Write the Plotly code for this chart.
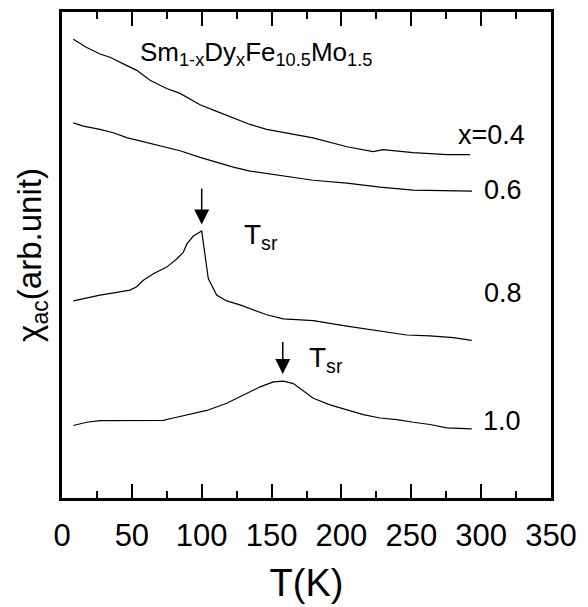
import plotly.graph_objects as go

# Temperature (K) and chi_ac (arb. unit, offset curves)
T_04 = [8.1, 17.7, 27.2, 34.4, 43.9, 53.5, 63.0, 74.9, 84.5, 98.8, 110.7, 122.6, 134.6, 146.5,
        158.4, 170.4, 179.7, 204.0, 222.6, 229.8, 251.3, 275.6, 292.0]
chi_04 = [466.3, 458.0, 451.3, 448.0, 441.3, 434.7, 424.7, 416.3, 411.3, 399.7, 393.0, 386.3, 379.7, 374.7,
          371.3, 368.0, 366.0, 357.0, 352.0, 354.0, 351.0, 349.0, 349.0]

T_06 = [8.1, 15.2, 27.2, 36.7, 46.3, 55.8, 65.4, 74.9, 84.5, 98.8, 110.7, 122.6, 134.6, 146.5,
        158.4, 170.4, 179.7, 204.0, 227.6, 251.3, 275.6, 293.5]
chi_06 = [381.3, 378.0, 374.7, 371.3, 366.3, 363.0, 360.3, 357.0, 353.0, 346.3, 341.3, 336.3, 332.3, 329.7,
          327.0, 324.7, 323.0, 320.0, 316.0, 313.0, 312.0, 312.0]

T_08 = [8.1, 17.7, 27.2, 39.2, 48.7, 53.5, 58.2, 65.4, 74.9, 82.1, 86.8, 89.3, 94.0, 100.0, 102.4,
        104.7, 110.7, 117.9, 127.4, 136.9, 146.5, 158.4, 170.4, 179.9, 203.8, 227.6, 246.7, 263.4,
        280.1, 293.3]
chi_08 = [200.3, 203.7, 206.3, 209.0, 211.3, 214.7, 221.3, 228.0, 234.7, 243.0, 249.7, 258.0, 266.3, 271.3, 246.3,
          223.0, 206.3, 200.3, 196.3, 191.3, 186.3, 182.0, 181.3, 180.3, 174.7, 169.7, 165.7, 164.7,
          163.0, 160.3]

T_10 = [8.1, 17.7, 27.2, 51.0, 72.5, 79.7, 89.3, 103.6, 117.9, 129.8, 141.8, 151.3, 158.4, 165.6,
        170.4, 179.9, 191.8, 203.8, 215.7, 227.6, 239.6, 251.5, 263.4, 275.4, 293.3]
chi_10 = [73.7, 77.0, 78.7, 78.7, 79.0, 81.3, 84.7, 89.0, 96.3, 104.7, 113.0, 118.0, 118.7, 116.3,
          111.3, 101.3, 94.7, 89.7, 84.7, 81.3, 79.7, 77.0, 74.7, 71.3, 70.3]

series_labels = ["x=0.4", "0.6", "0.8", "1.0"]
label_T = [282.0, 300.8, 300.8, 300.0]
label_chi = [369, 313, 208, 78]

x_ticks = [0, 50, 100, 150, 200, 250, 300, 350]

FONT = "Liberation Sans, Arial, sans-serif"

fig = go.Figure()
for T, chi in [(T_04, chi_04), (T_06, chi_06), (T_08, chi_08), (T_10, chi_10)]:
    fig.add_trace(go.Scatter(x=T, y=chi, mode="lines",
                             line=dict(color="black", width=1.2),
                             showlegend=False, hoverinfo="skip"))

annotations = []
for lab, tx, cy in zip(series_labels, label_T, label_chi):
    annotations.append(dict(x=tx, y=cy, text=lab, showarrow=False, xanchor="left", yanchor="middle",
                            font=dict(family=FONT, size=27, color="black")))

annotations.append(dict(x=54.4, y=452,
                        text="Sm<sub>1-x</sub>Dy<sub>x</sub>Fe<sub>10.5</sub>Mo<sub>1.5</sub>",
                        showarrow=False, xanchor="left", yanchor="middle",
                        font=dict(family=FONT, size=26, color="black")))
annotations.append(dict(x=129.0, y=266, text="T<sub>sr</sub>", showarrow=False,
                        xanchor="left", yanchor="middle",
                        font=dict(family=FONT, size=28, color="black")))
annotations.append(dict(x=175.5, y=141, text="T<sub>sr</sub>", showarrow=False,
                        xanchor="left", yanchor="middle",
                        font=dict(family=FONT, size=28, color="black")))

# arrows marking T_sr
for tx, y_tip, y_tail in [(100, 278, 316), (158, 126, 160)]:
    annotations.append(dict(x=tx, y=y_tip, ax=tx, ay=y_tail, axref="x", ayref="y",
                            xref="x", yref="y", text="", showarrow=True,
                            arrowhead=2, arrowsize=2.0, arrowwidth=1.5, arrowcolor="black"))

fig.update_layout(
    width=588, height=607,
    margin=dict(l=62, r=37, t=9, b=104),
    paper_bgcolor="white", plot_bgcolor="white",
    annotations=annotations,
    font=dict(family=FONT, color="black"),
)
fig.update_xaxes(
    range=[0, 350], tickvals=x_ticks, ticks="inside", ticklen=14, tickwidth=2,
    tickcolor="black", showline=True, linecolor="black", linewidth=3, mirror="ticks",
    showgrid=False, zeroline=False,
    minor=dict(dtick=25, ticks="inside", ticklen=7, tickwidth=2, tickcolor="black", showgrid=False),
    tickfont=dict(family=FONT, size=31, color="black"),
    ticklabelstandoff=8,
    title=dict(text="T(K)", font=dict(family=FONT, size=38, color="black"), standoff=18),
)
fig.update_yaxes(
    range=[0, 494], showticklabels=False, ticks="", showline=True, linecolor="black",
    linewidth=3, mirror=True, showgrid=False, zeroline=False,
    title=dict(text="χ<sub>ac</sub>(arb.unit)", font=dict(family=FONT, size=33, color="black"),
               standoff=8),
)

fig.write_html("out.html")
